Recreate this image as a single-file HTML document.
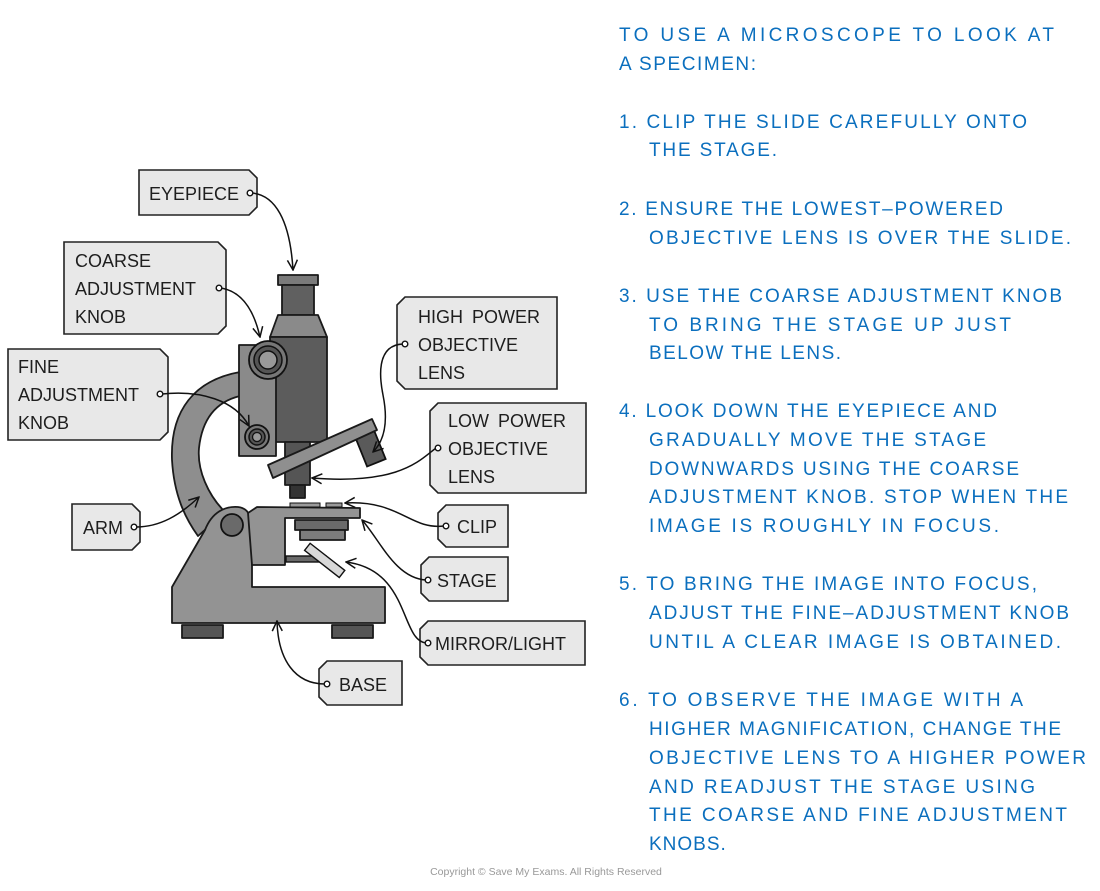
<!DOCTYPE html>
<html><head><meta charset="utf-8"><style>
html,body{margin:0;padding:0;background:#fff}
svg{display:block}
.t{font-family:"Liberation Sans",sans-serif;font-size:19px;fill:#0b6fbe;letter-spacing:1px}
.l{font-family:"Liberation Sans",sans-serif;font-size:18px;fill:#1e1e1e}
.tag{fill:#e8e8e8;stroke:#222;stroke-width:1.6}
.m{stroke:#1a1a1a;stroke-width:1.8;stroke-linejoin:round}
.c{fill:none;stroke:#111;stroke-width:1.5}
.d{fill:#fff;stroke:#111;stroke-width:1.4}
</style></head><body>
<svg width="1100" height="891" viewBox="0 0 1100 891" xmlns="http://www.w3.org/2000/svg">
<defs>
<marker id="a" viewBox="0 0 12 12" refX="11" refY="6" markerWidth="12" markerHeight="12" markerUnits="userSpaceOnUse" orient="auto">
<path d="M1,1 L11,6 L1,11" fill="none" stroke="#111" stroke-width="1.5"/>
</marker>
</defs>

<path class="m" fill="#8e8e8e" d="M240,372 C195,380 170,410 172,460 C174,495 185,518 198,536 L225,512 C208,495 197,470 199,448 C202,420 215,402 240,396 Z"/>
<path class="m" fill="#939393" d="M172,623 L172,587 L205,530 C212,512 225,506 238,507 C246,508 249,512 252,522 L252,587 L385,587 L385,623 Z"/>
<circle cx="232" cy="525" r="11" fill="#6a6a6a" stroke="#111" stroke-width="1.8"/>
<rect class="m" x="182" y="625" width="41" height="13" fill="#555"/>
<rect class="m" x="332" y="625" width="41" height="13" fill="#555"/>
<path class="m" fill="#939393" d="M248,513 L257,507 L360,508 L360,518 L285,518 L285,565 L252,565 Z"/>
<rect class="m" x="295" y="520" width="53" height="10" fill="#6a6a6a"/>
<rect class="m" x="300" y="530" width="45" height="10" fill="#7d7d7d"/>
<rect x="290" y="503" width="30" height="4" fill="#9a9a9a" stroke="#111" stroke-width="1"/>
<rect x="326" y="503" width="16" height="4" fill="#9a9a9a" stroke="#111" stroke-width="1"/>
<rect x="286" y="556" width="40" height="6" fill="#6a6a6a" stroke="#111" stroke-width="1.4"/>
<rect x="303" y="556" width="44" height="9" fill="#d8d8d8" stroke="#111" stroke-width="1.4" transform="rotate(38 325 560)"/>
<rect class="m" x="278" y="275" width="40" height="10" fill="#7a7a7a"/>
<rect class="m" x="282" y="285" width="32" height="30" fill="#606060"/>
<path class="m" fill="#8a8a8a" d="M278,315 L318,315 L327,337 L270,337 Z"/>
<rect class="m" x="270" y="337" width="57" height="105" fill="#5c5c5c"/>
<rect class="m" x="285" y="442" width="25" height="43" fill="#555"/>
<rect class="m" x="290" y="485" width="15" height="13" fill="#333"/>
<rect class="m" x="239" y="345" width="37" height="111" fill="#8a8a8a"/>
<circle cx="268" cy="360" r="19" fill="#777" stroke="#111" stroke-width="1.8"/>
<circle cx="268" cy="360" r="14" fill="#555" stroke="#111" stroke-width="1.5"/>
<circle cx="268" cy="360" r="9" fill="#999" stroke="#111" stroke-width="1.5"/>
<circle cx="257" cy="437" r="12" fill="#777" stroke="#111" stroke-width="1.8"/>
<circle cx="257" cy="437" r="8" fill="#555" stroke="#111" stroke-width="1.5"/>
<circle cx="257" cy="437" r="4.5" fill="#999" stroke="#111" stroke-width="1.3"/>
<rect x="360" y="430" width="20" height="34" fill="#5a5a5a" stroke="#111" stroke-width="1.8" transform="rotate(-22 370 447)"/>
<path class="m" fill="#8f8f8f" d="M268,465 L372,419 L377,430 L273,478 Z"/>

<path class="tag" d="M139,170 L249,170 L257,178 L257,207 L249,215 L139,215 Z"/>
<text class="l" x="149" y="200">EYEPIECE</text>
<path class="tag" d="M64,242 L218,242 L226,250 L226,326 L218,334 L64,334 Z"/>
<text class="l" x="75" y="267">COARSE</text>
<text class="l" x="75" y="295">ADJUSTMENT</text>
<text class="l" x="75" y="323">KNOB</text>
<path class="tag" d="M8,349 L160,349 L168,357 L168,432 L160,440 L8,440 Z"/>
<text class="l" x="18" y="373">FINE</text>
<text class="l" x="18" y="401">ADJUSTMENT</text>
<text class="l" x="18" y="429">KNOB</text>
<path class="tag" d="M72,504 L132,504 L140,512 L140,542 L132,550 L72,550 Z"/>
<text class="l" x="83" y="534">ARM</text>
<path class="tag" d="M405,297 L557,297 L557,389 L405,389 L397,381 L397,305 Z"/>
<text class="l" x="418" y="323" word-spacing="4">HIGH POWER</text>
<text class="l" x="418" y="351">OBJECTIVE</text>
<text class="l" x="418" y="379">LENS</text>
<path class="tag" d="M438,403 L586,403 L586,493 L438,493 L430,485 L430,411 Z"/>
<text class="l" x="448" y="427" word-spacing="4">LOW POWER</text>
<text class="l" x="448" y="455">OBJECTIVE</text>
<text class="l" x="448" y="483">LENS</text>
<path class="tag" d="M446,505 L508,505 L508,547 L446,547 L438,539 L438,513 Z"/>
<text class="l" x="457" y="533">CLIP</text>
<path class="tag" d="M429,557 L508,557 L508,601 L429,601 L421,593 L421,565 Z"/>
<text class="l" x="437" y="587">STAGE</text>
<path class="tag" d="M428,621 L585,621 L585,665 L428,665 L420,657 L420,629 Z"/>
<text class="l" x="435" y="650">MIRROR/LIGHT</text>
<path class="tag" d="M327,661 L402,661 L402,705 L327,705 L319,697 L319,669 Z"/>
<text class="l" x="339" y="691">BASE</text>

<path class="c" marker-end="url(#a)" d="M252,193 C275,195 290,220 293,270"/>
<path class="c" marker-end="url(#a)" d="M221,288 C245,292 255,315 260,337"/>
<path class="c" marker-end="url(#a)" d="M162,394 C200,390 235,400 249,426"/>
<path class="c" marker-end="url(#a)" d="M136,527 C160,527 180,515 199,497"/>
<path class="c" marker-end="url(#a)" d="M403,344 C375,345 380,380 383,395 C388,420 385,440 373,452"/>
<path class="c" marker-end="url(#a)" d="M436,448 C420,460 400,485 312,478"/>
<path class="c" marker-end="url(#a)" d="M444,526 C410,530 400,500 345,503"/>
<path class="c" marker-end="url(#a)" d="M426,580 C395,578 380,540 362,520"/>
<path class="c" marker-end="url(#a)" d="M426,643 C400,640 410,570 346,562"/>
<path class="c" marker-end="url(#a)" d="M325,684 C295,684 278,660 277,621"/>
<g class="d"><circle cx="250" cy="193" r="2.8"/><circle cx="219" cy="288" r="2.8"/><circle cx="160" cy="394" r="2.8"/><circle cx="134" cy="527" r="2.8"/><circle cx="405" cy="344" r="2.8"/><circle cx="438" cy="448" r="2.8"/><circle cx="446" cy="526" r="2.8"/><circle cx="428" cy="580" r="2.8"/><circle cx="428" cy="643" r="2.8"/><circle cx="327" cy="684" r="2.8"/></g>

<g class="t">
<text x="619" y="41" textLength="436" lengthAdjust="spacing">TO USE A MICROSCOPE TO LOOK AT</text>
<text x="619" y="70" textLength="138" lengthAdjust="spacing">A SPECIMEN:</text>
<text x="619" y="128" textLength="409" lengthAdjust="spacing">1. CLIP THE SLIDE CAREFULLY ONTO</text>
<text x="649" y="156" textLength="129" lengthAdjust="spacing">THE STAGE.</text>
<text x="619" y="215" textLength="385" lengthAdjust="spacing">2. ENSURE THE LOWEST–POWERED</text>
<text x="649" y="244" textLength="423" lengthAdjust="spacing">OBJECTIVE LENS IS OVER THE SLIDE.</text>
<text x="619" y="302" textLength="444" lengthAdjust="spacing">3. USE THE COARSE ADJUSTMENT KNOB</text>
<text x="649" y="331" textLength="363" lengthAdjust="spacing">TO BRING THE STAGE UP JUST</text>
<text x="649" y="359" textLength="193" lengthAdjust="spacing">BELOW THE LENS.</text>
<text x="619" y="417" textLength="379" lengthAdjust="spacing">4. LOOK DOWN THE EYEPIECE AND</text>
<text x="649" y="446" textLength="338" lengthAdjust="spacing">GRADUALLY MOVE THE STAGE</text>
<text x="649" y="475" textLength="371" lengthAdjust="spacing">DOWNWARDS USING THE COARSE</text>
<text x="649" y="503" textLength="420" lengthAdjust="spacing">ADJUSTMENT KNOB. STOP WHEN THE</text>
<text x="649" y="532" textLength="351" lengthAdjust="spacing">IMAGE IS ROUGHLY IN FOCUS.</text>
<text x="619" y="590" textLength="419" lengthAdjust="spacing">5. TO BRING THE IMAGE INTO FOCUS,</text>
<text x="649" y="619" textLength="421" lengthAdjust="spacing">ADJUST THE FINE–ADJUSTMENT KNOB</text>
<text x="649" y="648" textLength="413" lengthAdjust="spacing">UNTIL A CLEAR IMAGE IS OBTAINED.</text>
<text x="619" y="706" textLength="405" lengthAdjust="spacing">6. TO OBSERVE THE IMAGE WITH A</text>
<text x="649" y="735" textLength="413" lengthAdjust="spacing">HIGHER MAGNIFICATION, CHANGE THE</text>
<text x="649" y="764" textLength="438" lengthAdjust="spacing">OBJECTIVE LENS TO A HIGHER POWER</text>
<text x="649" y="793" textLength="387" lengthAdjust="spacing">AND READJUST THE STAGE USING</text>
<text x="649" y="821" textLength="419" lengthAdjust="spacing">THE COARSE AND FINE ADJUSTMENT</text>
<text x="649" y="850">KNOBS.</text>
</g>
<text x="546" y="875" text-anchor="middle" font-family="Liberation Sans, sans-serif" font-size="10.5" fill="#999">Copyright © Save My Exams. All Rights Reserved</text>
</svg>
</body></html>
